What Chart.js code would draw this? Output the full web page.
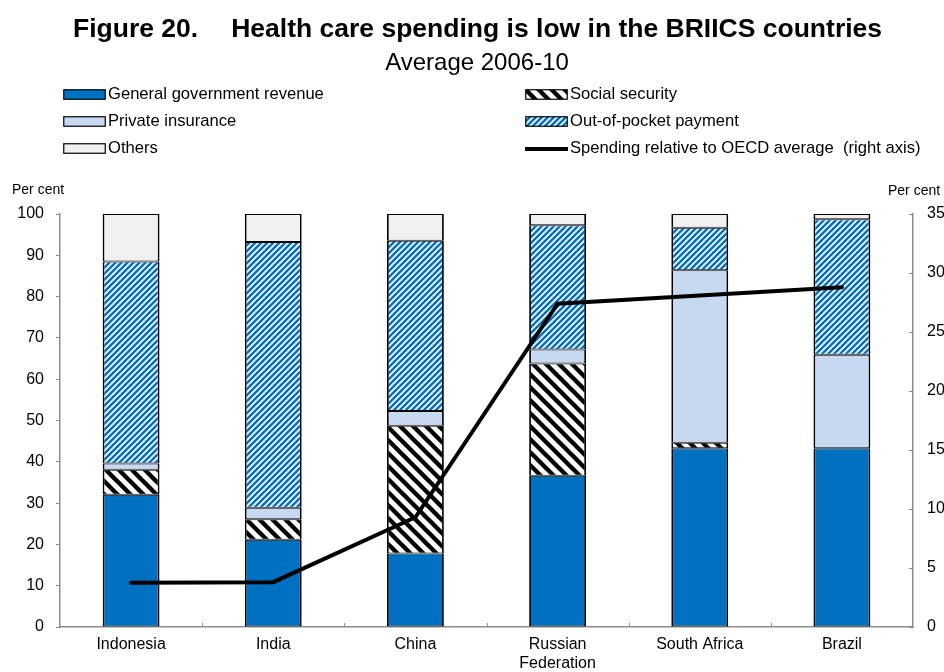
<!DOCTYPE html>
<html>
<head>
<meta charset="utf-8">
<script src="https://cdn.jsdelivr.net/npm/chart.js@4/dist/chart.umd.min.js"></script>
<style>
  body { margin: 0; background: #fff; }
  #wrap { position: relative; width: 944px; height: 672px; font-family: Arial, "Liberation Sans", sans-serif; color: #000; overflow: hidden; }
  #chart { position: absolute; left: 0; top: 0; }
  .title { position: absolute; left: 73px; top: 13px; font-weight: bold; font-size: 26.5px; line-height: 30px; white-space: nowrap; }
  .title .gap { display: inline-block; width: 33px; }
  .subtitle { position: absolute; left: 0; width: 954px; text-align: center; top: 48px; font-size: 24px; line-height: 28px; }
  .leg { position: absolute; font-size: 16.6px; line-height: 20px; white-space: pre; }
  .leg canvas { position: absolute; left: 0; top: 5px; }
  .leg span { position: absolute; left: 45px; top: 0; }
  .unit { position: absolute; font-size: 14px; line-height: 16px; white-space: nowrap; }
</style>
</head>
<body>
<div id="wrap">
  <canvas id="chart" width="944" height="672"></canvas>
  <div class="title">Figure 20.<span class="gap"></span>Health care spending is low in the BRIICS countries</div>
  <div class="subtitle">Average 2006-10</div>
  <div id="legend"></div>
  <div class="unit" style="left:12px;top:181px;">Per cent</div>
  <div class="unit" style="left:888px;top:182px;">Per cent</div>
</div>
<script>
// Country categories and health-spending shares (% of total), average 2006-10
const categories = ['Indonesia', 'India', 'China', ['Russian', 'Federation'], 'South Africa', 'Brazil'];
const govRevenue       = [32.0, 21.1, 17.8, 36.6, 43.3, 43.3];
const socialSecurity   = [6.1, 5.0, 30.9, 27.2, 1.3, 0];
const privateInsurance = [1.5, 2.8, 3.6, 3.4, 41.8, 22.6];
const outOfPocket      = [48.9, 64.3, 41.2, 30.1, 10.3, 32.8];
const others           = [11.5, 6.8, 6.5, 2.7, 3.3, 1.3];
// Health spending per capita relative to the OECD average (right axis)
const relativeSpending = [3.75, 3.8, 9.3, 27.4, 28.1, 28.8];
const leftTicks  = [0, 10, 20, 30, 40, 50, 60, 70, 80, 90, 100];
const rightTicks = [0, 5, 10, 15, 20, 25, 30, 35];

const BLUE = '#0070C0';
const LIGHT_BLUE = '#C6D9F1';
const LIGHT_GREY = '#F0F0F0';
const AXIS_GREY = '#8c8c8c';

// Diagonal stripe tile; dir = 1 for "/" and -1 for "\"
function stripePattern(ctx, bg, fg, size, lw, dir) {
  const c = document.createElement('canvas');
  c.width = size; c.height = size;
  const g = c.getContext('2d');
  g.fillStyle = bg; g.fillRect(0, 0, size, size);
  g.strokeStyle = fg; g.lineWidth = lw; g.lineCap = 'square';
  for (let k = -1; k <= 1; k++) {
    g.beginPath();
    if (dir > 0) {
      g.moveTo(k * size - 1, size + 1);
      g.lineTo(k * size + size + 1, -1);
    } else {
      g.moveTo(k * size - 1, -1);
      g.lineTo(k * size + size + 1, size + 1);
    }
    g.stroke();
  }
  return ctx.createPattern(c, 'repeat');
}
const ssTile  = g => stripePattern(g, '#ffffff', '#000000', 13, 4.4, -1);
const oopTile = g => stripePattern(g, '#ffffff', BLUE, 6, 2.5, 1);

const canvas = document.getElementById('chart');
const ctx = canvas.getContext('2d');
const ssPattern  = ssTile(ctx);
const oopPattern = oopTile(ctx);

// Small inward tick marks: between categories on the x axis, and on the inside of the right axis
const innerTicks = {
  id: 'innerTicks',
  afterDatasetsDraw(chart) {
    const x = chart.scales.x;
    const y2 = chart.scales.y2;
    const area = chart.chartArea;
    const c = chart.ctx;
    c.save();
    c.strokeStyle = AXIS_GREY;
    c.lineWidth = 1;
    for (let i = 0; i < categories.length - 1; i++) {
      const px = Math.round((x.getPixelForValue(i) + x.getPixelForValue(i + 1)) / 2) + 0.5;
      c.beginPath();
      c.moveTo(px, area.bottom);
      c.lineTo(px, area.bottom - 4);
      c.stroke();
    }
    rightTicks.forEach(v => {
      const py = Math.round(y2.getPixelForValue(v)) + 0.5;
      c.beginPath();
      c.moveTo(area.right, py);
      c.lineTo(area.right - 4, py);
      c.stroke();
    });
    c.restore();
  }
};

const barCommon = {
  borderColor: '#000',
  borderWidth: { top: 1, bottom: 1, left: 1.8, right: 1.8 },
  barPercentage: 0.4, categoryPercentage: 1, yAxisID: 'y', order: 1, borderSkipped: false
};

const chart = new Chart(ctx, {
  type: 'bar',
  data: {
    labels: categories,
    datasets: [
      Object.assign({ label: 'General government revenue', data: govRevenue, backgroundColor: BLUE }, barCommon),
      Object.assign({ label: 'Social security', data: socialSecurity, backgroundColor: ssPattern }, barCommon),
      Object.assign({ label: 'Private insurance', data: privateInsurance, backgroundColor: LIGHT_BLUE }, barCommon),
      Object.assign({ label: 'Out-of-pocket payment', data: outOfPocket, backgroundColor: oopPattern }, barCommon),
      Object.assign({ label: 'Others', data: others, backgroundColor: LIGHT_GREY }, barCommon),
      {
        type: 'line', label: 'Spending relative to OECD average  (right axis)', data: relativeSpending,
        yAxisID: 'y2', borderColor: '#000', borderWidth: 4, pointRadius: 0, tension: 0, order: 0,
        borderCapStyle: 'round', borderJoinStyle: 'miter', fill: false
      }
    ]
  },
  options: {
    responsive: false,
    animation: false,
    layout: { padding: { top: 214, left: 0, right: 0, bottom: 0 } },
    plugins: { legend: { display: false }, tooltip: { enabled: false }, title: { display: false } },
    scales: {
      x: {
        stacked: true,
        offset: true,
        grid: { display: false, drawTicks: false },
        border: { display: true, color: AXIS_GREY, width: 1.5 },
        ticks: { color: '#000', font: { family: 'Arial, "Liberation Sans", sans-serif', size: 16 }, padding: 8, maxRotation: 0, autoSkip: false },
        afterFit(s) { s.height = 45; }
      },
      y: {
        stacked: true,
        position: 'left',
        min: 0, max: 100,
        afterBuildTicks(s) { s.ticks = leftTicks.map(v => ({ value: v })); },
        grid: { drawOnChartArea: false, drawTicks: true, tickLength: 4, color: AXIS_GREY, lineWidth: 1 },
        border: { display: true, color: AXIS_GREY, width: 1.5 },
        ticks: { color: '#000', font: { family: 'Arial, "Liberation Sans", sans-serif', size: 16 }, padding: 12 },
        afterFit(s) { s.width = 60; }
      },
      y2: {
        position: 'right',
        min: 0, max: 35,
        afterBuildTicks(s) { s.ticks = rightTicks.map(v => ({ value: v })); },
        grid: { drawOnChartArea: false, drawTicks: false },
        border: { display: true, color: AXIS_GREY, width: 1.5 },
        ticks: { color: '#000', font: { family: 'Arial, "Liberation Sans", sans-serif', size: 16 }, padding: 14 },
        afterFit(s) { s.width = 31; }
      }
    }
  },
  plugins: [innerTicks]
});

// Two-column legend built from the chart's datasets
const legendLayout = [
  { ds: 0, x: 63, y: 94 }, { ds: 1, x: 525, y: 94 },
  { ds: 2, x: 63, y: 121 }, { ds: 3, x: 525, y: 121 },
  { ds: 4, x: 63, y: 148 }, { ds: 5, x: 525, y: 148 }
];
const legendBox = document.getElementById('legend');
legendLayout.forEach(item => {
  const ds = chart.data.datasets[item.ds];
  const div = document.createElement('div');
  div.className = 'leg';
  div.style.left = item.x + 'px';
  div.style.top = (item.y - 10) + 'px';
  const sw = document.createElement('canvas');
  sw.width = 43; sw.height = 11;
  const g = sw.getContext('2d');
  if (ds.type === 'line') {
    g.fillStyle = '#000';
    g.fillRect(0, 4, 43, 4);
  } else {
    let fill = ds.backgroundColor;
    if (item.ds === 1) fill = ssTile(g);
    if (item.ds === 3) fill = oopTile(g);
    g.fillStyle = fill;
    g.fillRect(1, 1, 41, 9);
    g.strokeStyle = '#000';
    g.lineWidth = 1.2;
    g.strokeRect(0.75, 0.75, 41.5, 9.5);
  }
  div.appendChild(sw);
  const span = document.createElement('span');
  span.textContent = ds.label;
  div.appendChild(span);
  legendBox.appendChild(div);
});
</script>
</body>
</html>
